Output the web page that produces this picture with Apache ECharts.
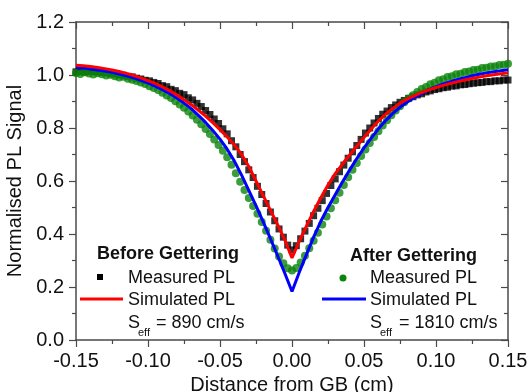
<!DOCTYPE html>
<html>
<head>
<meta charset="utf-8">
<script src="https://cdn.jsdelivr.net/npm/echarts@6/dist/echarts.min.js"></script>
<style>
  html, body { margin: 0; padding: 0; background: #fff; }
  #chart { width: 529px; height: 392px; }
</style>
</head>
<body>
<div id="chart"></div>
<script>
// x positions of the measured PL line scans (cm)
const measX = [
  -0.150, -0.147, -0.144, -0.141, -0.138, -0.135, -0.132, -0.129, -0.126, -0.123,
  -0.120, -0.117, -0.114, -0.111, -0.108, -0.105, -0.102, -0.099, -0.096, -0.093,
  -0.090, -0.087, -0.084, -0.081, -0.078, -0.075, -0.072, -0.069, -0.066, -0.063,
  -0.060, -0.057, -0.054, -0.051, -0.048, -0.045, -0.042, -0.039, -0.036, -0.033,
  -0.030, -0.027, -0.024, -0.021, -0.018, -0.015, -0.012, -0.009, -0.006, -0.003,
  0.000,
  0.003, 0.006, 0.009, 0.012, 0.015, 0.018, 0.021, 0.024, 0.027, 0.030,
  0.033, 0.036, 0.039, 0.042, 0.045, 0.048, 0.051, 0.054, 0.057, 0.060,
  0.063, 0.066, 0.069, 0.072, 0.075, 0.078, 0.081, 0.084, 0.087, 0.090,
  0.093, 0.096, 0.099, 0.102, 0.105, 0.108, 0.111, 0.114, 0.117, 0.120,
  0.123, 0.126, 0.129, 0.132, 0.135, 0.138, 0.141, 0.144, 0.147, 0.150
];

// before gettering, measured (black squares)
const beforeMeasured = [
  1.012, 1.013, 1.011, 1.014, 1.013, 1.012, 1.010, 1.009, 1.006, 1.004,
  1.001, 0.999, 0.995, 0.993, 0.988, 0.985, 0.980, 0.978, 0.972, 0.968,
  0.960, 0.956, 0.946, 0.941, 0.931, 0.926, 0.914, 0.906, 0.893, 0.881,
  0.866, 0.851, 0.834, 0.817, 0.797, 0.778, 0.752, 0.729, 0.700, 0.673,
  0.642, 0.613, 0.580, 0.549, 0.515, 0.483, 0.450, 0.419, 0.388, 0.358,
  0.340,
  0.356, 0.382, 0.411, 0.440, 0.469, 0.497, 0.526, 0.553, 0.583, 0.608,
  0.635, 0.660, 0.686, 0.710, 0.734, 0.757, 0.781, 0.800, 0.819, 0.836,
  0.852, 0.864, 0.877, 0.887, 0.897, 0.904, 0.912, 0.918, 0.925, 0.929,
  0.936, 0.940, 0.945, 0.948, 0.952, 0.954, 0.958, 0.959, 0.963, 0.964,
  0.967, 0.969, 0.971, 0.972, 0.975, 0.975, 0.978, 0.978, 0.981, 0.981
];

// after gettering, measured (green dots)
const afterMeasured = [
  1.008, 1.004, 1.010, 1.006, 1.002, 1.007, 1.003, 0.998, 1.001, 0.995,
  0.991, 0.993, 0.986, 0.982, 0.977, 0.972, 0.966, 0.958, 0.951, 0.943,
  0.933, 0.923, 0.913, 0.901, 0.889, 0.876, 0.862, 0.847, 0.831, 0.814,
  0.796, 0.777, 0.757, 0.736, 0.714, 0.690, 0.661, 0.629, 0.597, 0.566,
  0.536, 0.506, 0.476, 0.445, 0.412, 0.378, 0.345, 0.315, 0.290, 0.271,
  0.262,
  0.272, 0.292, 0.318, 0.346, 0.375, 0.405, 0.436, 0.466, 0.497, 0.527,
  0.556, 0.585, 0.614, 0.642, 0.668, 0.694, 0.719, 0.743, 0.766, 0.788,
  0.809, 0.829, 0.848, 0.866, 0.882, 0.897, 0.911, 0.924, 0.936, 0.947,
  0.955, 0.965, 0.971, 0.980, 0.984, 0.992, 0.995, 1.003, 1.005, 1.011,
  1.013, 1.019, 1.020, 1.026, 1.027, 1.032, 1.033, 1.038, 1.039, 1.042
];

// x positions of the simulated profiles (cm)
const simX = [
  -0.150, -0.145, -0.140, -0.135, -0.130, -0.125, -0.120, -0.115, -0.110, -0.105,
  -0.100, -0.095, -0.090, -0.085, -0.080, -0.075, -0.070, -0.065, -0.060, -0.055,
  -0.050, -0.045, -0.040, -0.035, -0.030, -0.025, -0.020, -0.015, -0.010, -0.005,
  0.000,
  0.005, 0.010, 0.015, 0.020, 0.025, 0.030, 0.035, 0.040, 0.045, 0.050,
  0.055, 0.060, 0.065, 0.070, 0.075, 0.080, 0.085, 0.090, 0.095, 0.100,
  0.105, 0.110, 0.115, 0.120, 0.125, 0.130, 0.135, 0.140, 0.145, 0.150
];

// simulated, S_eff = 890 cm/s (red)
const beforeSimulated = [
  1.037, 1.035, 1.032, 1.028, 1.024, 1.019, 1.013, 1.006, 0.998, 0.989,
  0.979, 0.968, 0.955, 0.941, 0.925, 0.907, 0.888, 0.867, 0.845, 0.820,
  0.794, 0.766, 0.736, 0.700, 0.655, 0.600, 0.545, 0.490, 0.435, 0.378,
  0.310,
  0.372, 0.430, 0.485, 0.537, 0.585, 0.628, 0.664, 0.698, 0.731, 0.764,
  0.796, 0.826, 0.852, 0.874, 0.894, 0.909, 0.922, 0.934, 0.944, 0.953,
  0.961, 0.968, 0.975, 0.981, 0.987, 0.992, 0.997, 1.001, 1.005, 1.008
];

// simulated, S_eff = 1810 cm/s (blue)
const afterSimulated = [
  1.028, 1.026, 1.023, 1.019, 1.015, 1.010, 1.004, 0.997, 0.989, 0.980,
  0.970, 0.958, 0.945, 0.930, 0.913, 0.894, 0.873, 0.848, 0.821, 0.791,
  0.758, 0.720, 0.675, 0.622, 0.565, 0.507, 0.446, 0.383, 0.318, 0.252,
  0.183,
  0.255, 0.322, 0.388, 0.448, 0.500, 0.548, 0.596, 0.641, 0.685, 0.725,
  0.762, 0.797, 0.828, 0.855, 0.878, 0.898, 0.915, 0.930, 0.944, 0.956,
  0.966, 0.975, 0.983, 0.990, 0.997, 1.003, 1.008, 1.012, 1.016, 1.020
];

const xTicks = [-0.15, -0.10, -0.05, 0.00, 0.05, 0.10, 0.15];
const yTicks = [0.0, 0.2, 0.4, 0.6, 0.8, 1.0, 1.2];

const FONT = "'Liberation Sans', Arial, sans-serif";
const AXIS_COLOR = "#4a4a4a";
const TEXT_COLOR = "#111";
const GREEN = "#0a840a";

const pairs = (xs, ys) => xs.map((x, i) => [x, ys[i]]);

const chart = echarts.init(document.getElementById("chart"), null, { renderer: "canvas" });

function axisBase(extra) {
  return Object.assign({
    type: "value",
    axisLine: { show: true, onZero: false, lineStyle: { color: AXIS_COLOR, width: 1.5 } },
    axisTick: { show: true, length: 7, lineStyle: { color: AXIS_COLOR, width: 1.2 } },
    minorTick: { show: true, splitNumber: 2, length: 4, lineStyle: { color: AXIS_COLOR, width: 1.2 } },
    splitLine: { show: false },
    minorSplitLine: { show: false },
  }, extra);
}

const xRange = { min: xTicks[0], max: xTicks[xTicks.length - 1], interval: 0.05 };
const yRange = { min: yTicks[0], max: yTicks[yTicks.length - 1], interval: 0.2 };

const labelText = { fontFamily: FONT, fontSize: 20, color: TEXT_COLOR };
const legendText = { fontFamily: FONT, fontSize: 18, fill: TEXT_COLOR, verticalAlign: "middle" };

const option = {
  animation: false,
  backgroundColor: "#fff",
  // fixed plot box; don't let v6 shrink it to fit the labels
  grid: { left: 76, right: 21, top: 22, bottom: 52, containLabel: false, outerBoundsMode: "none" },
  xAxis: [
    axisBase(Object.assign({}, xRange, {
      position: "bottom",
      name: "Distance from GB (cm)",
      nameLocation: "middle",
      nameGap: 30,
      nameTextStyle: labelText,
      axisLabel: Object.assign({ margin: 11, formatter: (v) => v.toFixed(2) }, labelText),
    })),
    axisBase(Object.assign({}, xRange, {
      position: "top",
      axisTick: { show: true, inside: true, length: 7, lineStyle: { color: AXIS_COLOR, width: 1.2 } },
      axisLabel: { show: false },
    })),
  ],
  yAxis: [
    axisBase(Object.assign({}, yRange, {
      position: "left",
      name: "Normalised PL Signal",
      nameLocation: "middle",
      nameGap: 44,
      nameTextStyle: labelText,
      axisLabel: Object.assign({ margin: 12, formatter: (v) => v.toFixed(1) }, labelText),
    })),
    axisBase(Object.assign({}, yRange, {
      position: "right",
      axisTick: { show: true, inside: true, length: 7, lineStyle: { color: AXIS_COLOR, width: 1.2 } },
      axisLabel: { show: false },
    })),
  ],
  series: [
    {
      name: "Measured PL (before)",
      type: "scatter",
      data: pairs(measX, beforeMeasured),
      symbol: "rect",
      symbolSize: 7,
      itemStyle: { color: "#000" },
      z: 2,
    },
    {
      name: "Measured PL (after)",
      type: "scatter",
      data: pairs(measX, afterMeasured),
      symbol: "circle",
      symbolSize: 8,
      itemStyle: { color: GREEN },
      z: 3,
    },
    {
      name: "Simulated PL (after)",
      type: "line",
      data: pairs(simX, afterSimulated),
      showSymbol: false,
      lineStyle: { color: "#0000ff", width: 3 },
      z: 4,
    },
    {
      name: "Simulated PL (before)",
      type: "line",
      data: pairs(simX, beforeSimulated),
      showSymbol: false,
      lineStyle: { color: "#ff0000", width: 3 },
      z: 5,
    },
  ],
  // hand-placed legends, as in the original figure
  graphic: [
    { type: "text", left: 97, top: 245, style: Object.assign({}, legendText, { text: "Before Gettering", fontWeight: "bold", verticalAlign: "top" }) },
    { type: "rect", shape: { x: 97, y: 274, width: 6, height: 6 }, style: { fill: "#000" } },
    { type: "text", x: 128, y: 278, style: Object.assign({}, legendText, { text: "Measured PL" }) },
    { type: "line", shape: { x1: 80, y1: 299, x2: 123, y2: 299 }, style: { stroke: "#ff0000", lineWidth: 3 } },
    { type: "text", x: 128, y: 300, style: Object.assign({}, legendText, { text: "Simulated PL" }) },
    { type: "text", x: 128, y: 323, style: Object.assign({}, legendText, { text: "S" }) },
    { type: "text", x: 138, y: 333, style: { text: "eff", fontFamily: FONT, fontSize: 11, fill: TEXT_COLOR, verticalAlign: "middle" } },
    { type: "text", x: 156, y: 323, style: Object.assign({}, legendText, { text: "= 890 cm/s" }) },

    { type: "text", left: 350, top: 247, style: Object.assign({}, legendText, { text: "After Gettering", fontWeight: "bold", verticalAlign: "top" }) },
    { type: "circle", shape: { cx: 343, cy: 278, r: 3.5 }, style: { fill: GREEN } },
    { type: "text", x: 370, y: 278, style: Object.assign({}, legendText, { text: "Measured PL" }) },
    { type: "line", shape: { x1: 322, y1: 299, x2: 366, y2: 299 }, style: { stroke: "#0000ff", lineWidth: 3 } },
    { type: "text", x: 370, y: 300, style: Object.assign({}, legendText, { text: "Simulated PL" }) },
    { type: "text", x: 370, y: 323, style: Object.assign({}, legendText, { text: "S" }) },
    { type: "text", x: 380, y: 333, style: { text: "eff", fontFamily: FONT, fontSize: 11, fill: TEXT_COLOR, verticalAlign: "middle" } },
    { type: "text", x: 399, y: 323, style: Object.assign({}, legendText, { text: "= 1810 cm/s" }) },
  ],
};

chart.setOption(option);
</script>
</body>
</html>
